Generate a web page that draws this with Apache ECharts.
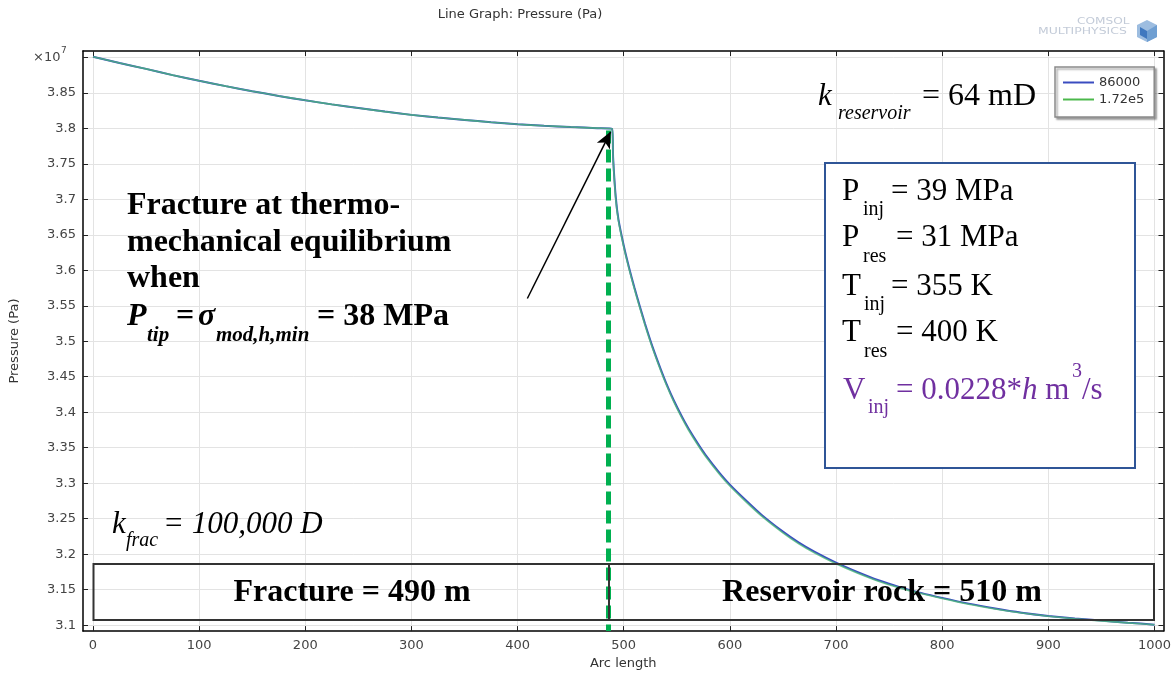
<!DOCTYPE html>
<html>
<head>
<meta charset="utf-8">
<script src="https://cdn.jsdelivr.net/npm/echarts@6/dist/echarts.min.js"></script>
<style>
  html, body { margin: 0; padding: 0; background: #ffffff; }
  #chart { width: 1174px; height: 675px; }
</style>
</head>
<body>
<div id="chart"></div>
<script>
// Arc length along the line (m)
const arcLength = [
  0, 25, 50, 75, 100, 125, 150, 175, 200, 225, 250, 275, 300, 325, 350, 375,
  400, 425, 450, 475, 489,
  490, 492.5, 495, 500, 505, 510, 515, 520, 527, 535, 540, 547, 555, 561, 570,
  577, 590, 600, 615, 630, 650, 665, 680, 700, 720, 740, 760, 780, 800, 825,
  850, 875, 900, 925, 950, 975, 1000
];
// Pressure (x10^7 Pa) at t = 86000 s
const pressure86000 = [
  3.901, 3.892, 3.8838, 3.875, 3.8671, 3.8595, 3.8524, 3.8457, 3.8395, 3.8338,
  3.8286, 3.8236, 3.819, 3.8153, 3.8119, 3.8086, 3.8057, 3.8036, 3.8019, 3.8003,
  3.7994,
  3.759, 3.703, 3.672, 3.635, 3.604, 3.576, 3.550, 3.525, 3.4928, 3.460, 3.441,
  3.4172, 3.3932, 3.377, 3.3554, 3.340, 3.315, 3.298, 3.276, 3.2553, 3.2317,
  3.2162, 3.2031, 3.188, 3.1749, 3.1632, 3.1536, 3.1455, 3.1384, 3.1303, 3.1235,
  3.1176, 3.113, 3.1094, 3.1064, 3.1035, 3.1007
];
// Pressure (x10^7 Pa) at t = 1.72e5 s
const pressure172e5 = [
  3.901, 3.892, 3.8838, 3.875, 3.8671, 3.8595, 3.8524, 3.8457, 3.8395, 3.8338,
  3.8286, 3.8236, 3.819, 3.8153, 3.8119, 3.8086, 3.8057, 3.8036, 3.8019, 3.8003,
  3.7994,
  3.757, 3.700, 3.670, 3.633, 3.602, 3.574, 3.548, 3.523, 3.4908, 3.458, 3.439,
  3.4152, 3.3912, 3.375, 3.3534, 3.338, 3.313, 3.296, 3.274, 3.2535, 3.230,
  3.2145, 3.2015, 3.1865, 3.1735, 3.162, 3.1525, 3.1445, 3.1375, 3.1295, 3.1228,
  3.117, 3.1125, 3.109, 3.106, 3.1032, 3.1005
];
const seriesNames = ['86000', '1.72e5'];
const xTicks = [0, 100, 200, 300, 400, 500, 600, 700, 800, 900, 1000];
const yTicks = [3.1, 3.15, 3.2, 3.25, 3.3, 3.35, 3.4, 3.45, 3.5, 3.55, 3.6, 3.65, 3.7, 3.75, 3.8, 3.85, 3.9];
const yLabels = [3.1, 3.15, 3.2, 3.25, 3.3, 3.35, 3.4, 3.45, 3.5, 3.55, 3.6, 3.65, 3.7, 3.75, 3.8, 3.85];

// Fracture tip position and annotation arrow (data coordinates)
const fractureTip = 485.7;
const arrowFrom = [409.2, 3.5603];
const arrowTo = [487.6, 3.7951];

const SANS = 'DejaVu Sans';
const SERIF = 'Liberation Serif';

const chart = echarts.init(document.getElementById('chart'));

function zip(xs, ys) { return xs.map((x, i) => [x, ys[i]]); }

// text piece placed by its baseline
function txt(text, x, base, size, opt) {
  opt = opt || {};
  return {
    type: 'text', z: 100,
    x: x, y: base - 0.34 * size,
    scaleX: opt.sx || 1,
    style: {
      text: text,
      font: (opt.style || 'normal') + ' ' + (opt.weight || 'normal') + ' ' + size + 'px "' + (opt.family || SERIF) + '"',
      fill: opt.color || '#000',
      align: opt.align || 'left',
      verticalAlign: 'middle'
    }
  };
}

const purple = '#7030a0';
const paramRows = [
  { m: 'P', s: 'inj', r: '= 39 MPa', b: 202, sx: 863, rx: 891 },
  { m: 'P', s: 'res', r: '= 31 MPa', b: 248.5, sx: 863, rx: 896 },
  { m: 'T', s: 'inj', r: '= 355 K', b: 297, sx: 864, rx: 891 },
  { m: 'T', s: 'res', r: '= 400 K', b: 343.5, sx: 864, rx: 896 }
];

const graphics = [];
// title
graphics.push({ type: 'text', x: 520, y: 15, style: { text: 'Line Graph: Pressure (Pa)', font: '13px "' + SANS + '"', fill: '#333', align: 'center', verticalAlign: 'middle' } });
// axis multiplier
graphics.push({ type: 'text', x: 33, y: 58, style: { text: '×10', font: '13px "' + SANS + '"', fill: '#444', verticalAlign: 'middle' } });
graphics.push({ type: 'text', x: 61, y: 51, style: { text: '7', font: '9px "' + SANS + '"', fill: '#444', verticalAlign: 'middle' } });
// logo
graphics.push({ type: 'text', x: 1077, y: 22, scaleX: 1.35, style: { text: 'COMSOL', font: '9px "' + SANS + '"', fill: '#c3cbd8', verticalAlign: 'middle' } });
graphics.push({ type: 'text', x: 1038, y: 32, scaleX: 1.38, style: { text: 'MULTIPHYSICS', font: '9px "' + SANS + '"', fill: '#c3cbd8', verticalAlign: 'middle' } });
graphics.push({ type: 'polygon', shape: { points: [[1147, 20], [1157, 25], [1157, 37], [1147, 42], [1137, 37], [1137, 25]] }, style: { fill: '#9dbde0' } });
graphics.push({ type: 'polygon', shape: { points: [[1147, 31], [1157, 25], [1157, 37], [1147, 42]] }, style: { fill: '#6f9fd2' } });
graphics.push({ type: 'polygon', shape: { points: [[1140, 27], [1147, 31], [1147, 39], [1140, 35]] }, style: { fill: '#3f78bf' } });

// k_reservoir
graphics.push(txt('k', 818, 107, 31, { style: 'italic' }));
graphics.push(txt('reservoir', 838, 121, 20, { style: 'italic' }));
graphics.push(txt('= 64 mD', 922, 107, 32));

// parameter box
graphics.push({ type: 'rect', z: 90, shape: { x: 825, y: 163, width: 310, height: 305 }, style: { fill: '#fff', stroke: '#2f5597', lineWidth: 2 } });
paramRows.forEach(r => {
  graphics.push(txt(r.m, 842, r.b, 31));
  graphics.push(txt(r.s, r.sx, r.b + 15, 20));
  graphics.push(txt(r.r, r.rx, r.b, 31));
});
graphics.push(txt('V', 843, 401.7, 31, { color: purple }));
graphics.push(txt('inj', 868, 415, 20, { color: purple }));
graphics.push({
  type: 'text', z: 100, x: 896, y: 401.7 - 0.34 * 31,
  style: {
    text: '{a|= 0.0228*}{i|h}{a| m}',
    verticalAlign: 'middle',
    rich: {
      a: { font: 'normal 31px "' + SERIF + '"', fill: purple, color: purple },
      i: { font: 'italic 31px "' + SERIF + '"', fill: purple, color: purple }
    }
  }
});
graphics.push(txt('3', 1072, 379, 20, { color: purple }));
graphics.push(txt('/s', 1082, 401.7, 31, { color: purple }));

// fracture equilibrium note
graphics.push(txt('Fracture at thermo-', 127, 217, 32, { weight: 'bold' }));
graphics.push(txt('mechanical equilibrium', 127, 254, 32, { weight: 'bold' }));
graphics.push(txt('when', 127, 290, 32, { weight: 'bold' }));
graphics.push(txt('P', 127, 328, 32, { weight: 'bold', style: 'italic' }));
graphics.push(txt('tip', 147, 343, 21, { weight: 'bold', style: 'italic' }));
graphics.push(txt('=', 176, 328, 32, { weight: 'bold' }));
graphics.push(txt('σ', 198, 328, 32, { weight: 'bold', style: 'italic' }));
graphics.push(txt('mod,h,min', 216, 343, 21, { weight: 'bold', style: 'italic' }));
graphics.push(txt('= 38 MPa', 317, 328, 32, { weight: 'bold' }));

// k_frac
graphics.push(txt('k', 112, 535, 31, { style: 'italic' }));
graphics.push(txt('frac', 126, 548, 20, { style: 'italic' }));
graphics.push(txt('= 100,000 D', 163, 535, 31, { style: 'italic' }));

// region boxes along the bottom
graphics.push({ type: 'rect', z: 95, shape: { x: 93.5, y: 564, width: 515.5, height: 56 }, style: { fill: null, stroke: '#333', lineWidth: 2 } });
graphics.push({ type: 'rect', z: 95, shape: { x: 609, y: 564, width: 545, height: 56 }, style: { fill: null, stroke: '#333', lineWidth: 2 } });
graphics.push(txt('Fracture = 490 m', 352, 604, 32, { weight: 'bold', align: 'center' }));
graphics.push(txt('Reservoir rock = 510 m', 882, 604, 32, { weight: 'bold', align: 'center' }));

const axisBase = {
  type: 'value',
  axisLine: { show: true, onZero: false, lineStyle: { color: '#000', width: 1.5 } },
  axisTick: { show: true, inside: true, length: 5, lineStyle: { color: '#222', width: 1 } }
};

const plain = v => String(v);

const option = {
  animation: false,
  backgroundColor: '#fff',
  grid: { left: 83, right: 9, top: 51, bottom: 42 },
  legend: {
    orient: 'vertical', left: 1055, top: 67,
    padding: [9, 10, 11, 8], itemGap: 4, itemWidth: 31, itemHeight: 2,
    backgroundColor: '#fff', borderColor: '#8a8a8a', borderWidth: 1.5,
    shadowColor: 'rgba(0,0,0,0.35)', shadowBlur: 2, shadowOffsetX: 2, shadowOffsetY: 2,
    textStyle: { fontFamily: SANS, fontSize: 13, color: '#333', lineHeight: 12 },
    data: seriesNames.map(n => ({ name: n, icon: 'rect' }))
  },
  xAxis: [
    Object.assign({}, axisBase, {
      position: 'bottom', min: -9.4, max: 1008.5,
      axisTick: Object.assign({}, axisBase.axisTick, { customValues: xTicks }),
      axisLabel: { customValues: xTicks, formatter: plain, color: '#444', fontFamily: SANS, fontSize: 13, margin: 8 },
      splitLine: { show: true, lineStyle: { color: '#e3e3e3', width: 1 } },
      name: 'Arc length', nameLocation: 'middle', nameGap: 24,
      nameTextStyle: { fontFamily: SANS, fontSize: 13, color: '#333' }
    }),
    Object.assign({}, axisBase, {
      position: 'top', min: -9.4, max: 1008.5,
      axisTick: Object.assign({}, axisBase.axisTick, { customValues: xTicks }),
      axisLabel: { show: false }, splitLine: { show: false }
    })
  ],
  yAxis: [
    Object.assign({}, axisBase, {
      position: 'left', min: 3.0916, max: 3.909,
      axisTick: Object.assign({}, axisBase.axisTick, { customValues: yTicks }),
      axisLabel: { customValues: yLabels, formatter: plain, color: '#444', fontFamily: SANS, fontSize: 13, margin: 7 },
      splitLine: { show: true, lineStyle: { color: '#e3e3e3', width: 1 } },
      name: 'Pressure (Pa)', nameLocation: 'middle', nameGap: 62, nameRotate: 90,
      nameTextStyle: { fontFamily: SANS, fontSize: 13, color: '#333' }
    }),
    Object.assign({}, axisBase, {
      position: 'right', min: 3.0916, max: 3.909,
      axisTick: Object.assign({}, axisBase.axisTick, { customValues: yTicks }),
      axisLabel: { show: false }, splitLine: { show: false }
    })
  ],
  series: [
    {
      name: seriesNames[0], type: 'line', data: zip(arcLength, pressure86000),
      symbol: 'none', smooth: 0.2,
      lineStyle: { color: '#3a4cc0', width: 2 }, itemStyle: { color: '#3a4cc0' }, z: 2
    },
    {
      name: seriesNames[1], type: 'line', data: zip(arcLength, pressure172e5),
      symbol: 'none', smooth: 0.2,
      lineStyle: { color: '#4cb87a', width: 1.6, opacity: 0.8 }, itemStyle: { color: '#4cb84c' }, z: 3,
      markLine: {
        silent: true, animation: false,
        label: { show: false },
        data: [
          [
            { coord: [fractureTip, 3.797], symbol: 'none', lineStyle: { color: '#00b050', width: 5, type: [13, 6] } },
            { coord: [fractureTip, 3.0916], symbol: 'none' }
          ],
          [
            { coord: arrowFrom, symbol: 'none', lineStyle: { color: '#000', width: 1.5, type: 'solid' } },
            { coord: arrowTo, symbol: 'arrow', symbolSize: [11, 16] }
          ]
        ]
      }
    }
  ],
  graphic: graphics
};

chart.setOption(option);
</script>
</body>
</html>
